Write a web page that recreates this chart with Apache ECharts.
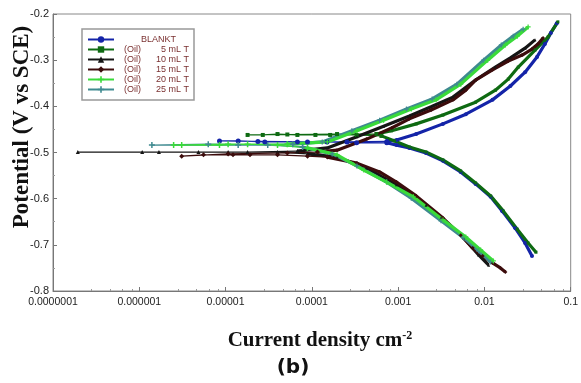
<!DOCTYPE html>
<html>
<head>
<meta charset="utf-8">
<script src="https://cdn.jsdelivr.net/npm/echarts@6/dist/echarts.min.js"></script>
<style>
  html, body { margin: 0; padding: 0; background: #fff; }
  #chart { width: 581px; height: 383px; }
</style>
</head>
<body>
<div id="chart"></div>
<script>
// tick labels
var yTicks = [-0.8, -0.7, -0.6, -0.5, -0.4, -0.3, -0.2];
var xTicks = [0.0000001, 0.000001, 0.00001, 0.0001, 0.001, 0.01, 0.1];

// series names (legend order)
var names = ['BLANKT', '(Oil) 5 mL T', '(Oil) 10 mL T', '(Oil) 15 mL T', '(Oil) 20 mL T', '(Oil) 25 mL T'];

// [current density, potential]
// each runs cathodic branch -> flat part near Ecorr -> anodic branch
var blank = [
  [0.0356,-0.724],[0.0296,-0.696],[0.0228,-0.664],[0.0161,-0.627],[0.0118,-0.596],[0.0079,-0.568],
  [0.0053,-0.542],[0.0033,-0.518],[0.0021,-0.501],[0.00135,-0.49],[0.00096,-0.484],[0.00074,-0.479],
  [0.00033,-0.479],[0.00015,-0.477],[0.000068,-0.477],[0.0000285,-0.477],[0.000014,-0.475],[0.0000085,-0.475],
  [0.0000237,-0.476],[0.000089,-0.477],[0.000255,-0.477],[0.00074,-0.476],[0.00096,-0.473],[0.00162,-0.46],
  [0.0033,-0.438],[0.0061,-0.417],[0.0124,-0.386],[0.02,-0.356],[0.0296,-0.326],[0.0407,-0.293],
  [0.0502,-0.265],[0.0589,-0.241],[0.069,-0.22]
];
var oil5 = [
  [0.0396,-0.716],[0.0321,-0.696],[0.024,-0.666],[0.0166,-0.627],[0.0118,-0.594],[0.0079,-0.566],
  [0.0053,-0.54],[0.0033,-0.516],[0.0021,-0.499],[0.00135,-0.488],[0.00091,-0.475],[0.00064,-0.464],
  [0.00033,-0.462],[0.000163,-0.462],[0.00011,-0.462],[0.000068,-0.462],[0.00004,-0.46],[0.000027,-0.462],
  [0.000018,-0.462],[0.000052,-0.461],[0.000196,-0.46],[0.00056,-0.46],[0.00084,-0.453],[0.00162,-0.438],
  [0.0033,-0.419],[0.0079,-0.391],[0.0134,-0.365],[0.0189,-0.341],[0.0247,-0.315],[0.0386,-0.278],
  [0.0545,-0.25],[0.071,-0.217]
];
var oil10 = [
  [0.0112,-0.744],[0.00857,-0.722],[0.00577,-0.685],[0.00314,-0.642],[0.00211,-0.614],[0.000957,-0.57],
  [0.000433,-0.534],[0.000196,-0.51],[0.000089,-0.503],[0.00004,-0.499],[0.0000107,-0.499],[0.00000485,-0.499],
  [0.00000108,-0.499],[0.000000194,-0.499],[0.00000169,-0.499],[0.000018,-0.499],[0.000068,-0.497],
  [0.000151,-0.49],[0.000333,-0.466],[0.000679,-0.443],[0.00135,-0.421],[0.00241,-0.401],[0.00432,-0.38],
  [0.0079,-0.343],[0.0134,-0.315],[0.02,-0.295],[0.0296,-0.274],[0.0386,-0.256]
];
var oil15 = [
  [0.0175,-0.759],[0.0153,-0.75],[0.0124,-0.739],[0.00953,-0.724],[0.00731,-0.707],[0.00532,-0.679],
  [0.00331,-0.642],[0.00162,-0.594],[0.000957,-0.564],[0.00061,-0.542],[0.000333,-0.523],[0.000151,-0.51],
  [0.000089,-0.508],[0.00004,-0.505],[0.0000192,-0.505],[0.0000122,-0.505],[0.00000555,-0.505],[0.0000031,-0.508],
  [0.0000107,-0.503],[0.000052,-0.501],[0.000116,-0.499],
  [0.000196,-0.495],[0.000433,-0.471],[0.00084,-0.447],[0.00135,-0.427],[0.00241,-0.408],[0.00432,-0.386],
  [0.00608,-0.365],[0.0079,-0.343],[0.0124,-0.321],[0.0189,-0.302],[0.0274,-0.289],[0.0356,-0.276],
  [0.0418,-0.265],[0.0478,-0.252]
];
var oil20 = [
  [0.0127,-0.735],[0.00904,-0.711],[0.00608,-0.683],[0.00331,-0.646],[0.0015,-0.596],[0.000735,-0.564],
  [0.0004,-0.538],[0.000196,-0.505],[0.000089,-0.49],[0.00004,-0.484],[0.000018,-0.482],[0.0000085,-0.484],
  [0.0000031,-0.484],[0.0000025,-0.484],[0.0000107,-0.482],[0.000052,-0.482],
  [0.000151,-0.477],[0.000333,-0.453],[0.000679,-0.43],[0.00142,-0.406],[0.00275,-0.386],[0.00532,-0.352],
  [0.0109,-0.3],[0.0175,-0.267],[0.024,-0.248],[0.0321,-0.228]
];
var oil25 = [
  [0.0118,-0.737],[0.00857,-0.713],[0.00577,-0.685],[0.00314,-0.648],[0.00142,-0.599],[0.000735,-0.564],
  [0.000333,-0.529],[0.000172,-0.503],[0.000078,-0.488],[0.0000308,-0.484],[0.0000063,-0.482],[0.0000014,-0.484],
  [0.000014,-0.484],[0.00006,-0.482],
  [0.000132,-0.477],[0.000291,-0.453],[0.00061,-0.43],[0.00125,-0.406],[0.00248,-0.384],[0.0048,-0.352],
  [0.00977,-0.3],[0.0157,-0.267],[0.0216,-0.248],[0.0281,-0.233]
];

// first and last index of the flat (near Ecorr) stretch of each curve
var flatBlank = [11, 21];
var flat5 = [11, 21];
var flat10 = [8, 16];
var flat15 = [11, 20];
var flat20 = [8, 15];
var flat25 = [8, 13];

var plus = 'path://M3,0H5V3H8V5H5V8H3V5H0V3H3Z';

// thin line with markers for the flat part, heavy line for the Tafel branches
function curve(name, data, flat, color, symbol, size) {
  var branches = data.slice(0, flat[0] + 1).concat([['-', '-']], data.slice(flat[1]));
  return [
    {
      name: name, type: 'line', data: data.slice(flat[0], flat[1] + 1),
      symbol: symbol, symbolSize: size, showSymbol: true,
      lineStyle: { color: color, width: 1.2 }, itemStyle: { color: color },
      emphasis: { disabled: true }
    },
    {
      name: name, type: 'line', data: branches,
      symbol: symbol, symbolSize: size - 1, showSymbol: true, connectNulls: false,
      lineStyle: { color: color, width: 3.2 }, itemStyle: { color: color },
      emphasis: { disabled: true }
    }
  ];
}

function xLabel(v) {
  var n = Math.round(-Math.log10(v));
  return n > 0 ? v.toFixed(n) : String(v);
}

var myChart = echarts.init(document.getElementById('chart'));
var option = {
  backgroundColor: '#fff',
  animation: false,
  grid: { left: 53, top: 14, right: 5, bottom: 92, show: true, borderColor: '#888', borderWidth: 1 },
  legend: {
    data: names,
    orient: 'vertical',
    left: 82,
    top: 29,
    itemWidth: 26,
    itemHeight: 8,
    itemGap: 1,
    padding: [6, 5, 6, 5],
    borderColor: '#999',
    borderWidth: 1.5,
    backgroundColor: '#fff',
    textStyle: {
      fontFamily: 'Liberation Sans',
      fontSize: 9,
      color: '#7a3030',
      rich: {
        s: { width: 22, fontSize: 9, lineHeight: 9 },
        c: { width: 48, fontSize: 9, lineHeight: 9, color: '#7a3030' },
        p: { width: 5, fontSize: 9, lineHeight: 9 },
        a: { width: 27, fontSize: 9, lineHeight: 9, color: '#7a3030' },
        b: { width: 38, align: 'right', fontSize: 9, lineHeight: 9, color: '#7a3030' }
      }
    },
    formatter: function (name) {
      if (name === 'BLANKT') return '{s| }{c|BLANKT}';
      var i = name.indexOf(' ');
      return '{p| }{a|' + name.slice(0, i) + '}{b|' + name.slice(i + 1) + '}';
    }
  },
  xAxis: {
    type: 'log',
    logBase: 10,
    min: xTicks[0],
    max: xTicks[xTicks.length - 1],
    axisLine: { lineStyle: { color: '#777' } },
    axisTick: { inside: true, length: 4, lineStyle: { color: '#777' } },
    minorTick: { show: true, splitNumber: 5, length: 2, lineStyle: { color: '#999' } },
    splitLine: { show: false },
    axisLabel: { fontFamily: 'Liberation Sans', fontSize: 10.5, color: '#222', margin: 6, formatter: xLabel }
  },
  yAxis: {
    type: 'value',
    min: yTicks[0],
    max: yTicks[yTicks.length - 1],
    interval: 0.1,
    axisLine: { show: true, lineStyle: { color: '#777' } },
    axisTick: { show: true, inside: true, length: 4, lineStyle: { color: '#777' } },
    minorTick: { show: true, splitNumber: 2, length: 2, lineStyle: { color: '#999' } },
    splitLine: { show: false },
    axisLabel: {
      fontFamily: 'Liberation Sans', fontSize: 11, color: '#222', margin: 4,
      formatter: function (v) { return v.toFixed(1); }
    }
  },
  graphic: [
    {
      type: 'text', x: 22, y: 127, rotation: Math.PI / 2,
      style: {
        text: 'Potential (V vs SCE)', fill: '#111',
        font: 'bold 23px "Liberation Serif"', align: 'center', verticalAlign: 'middle'
      }
    },
    {
      type: 'text', x: 320, y: 341,
      style: {
        text: '{m|Current density cm}{s|-2}', align: 'center', verticalAlign: 'middle',
        rich: {
          m: { font: 'bold 21px "Liberation Serif"', fill: '#111', lineHeight: 22 },
          s: { font: 'bold 12px "Liberation Serif"', fill: '#111', verticalAlign: 'top', lineHeight: 22 }
        }
      }
    },
    {
      type: 'text', x: 293, y: 368,
      style: {
        text: '(b)', fill: '#111',
        font: 'bold 20px "DejaVu Sans"', align: 'center', verticalAlign: 'middle'
      }
    }
  ],
  series: [].concat(
    curve(names[0], blank, flatBlank, '#1424a8', 'circle', 5),
    curve(names[1], oil5, flat5, '#0e6a12', 'rect', 4),
    curve(names[2], oil10, flat10, '#151515', 'triangle', 4),
    curve(names[3], oil15, flat15, '#3c0c0c', 'diamond', 5),
    curve(names[5], oil25, flat25, '#3f8a90', plus, 6),
    curve(names[4], oil20, flat20, '#3ada3a', plus, 6)
  )
};
myChart.setOption(option);
window.addEventListener('resize', function () { myChart.resize(); });
</script>
</body>
</html>
